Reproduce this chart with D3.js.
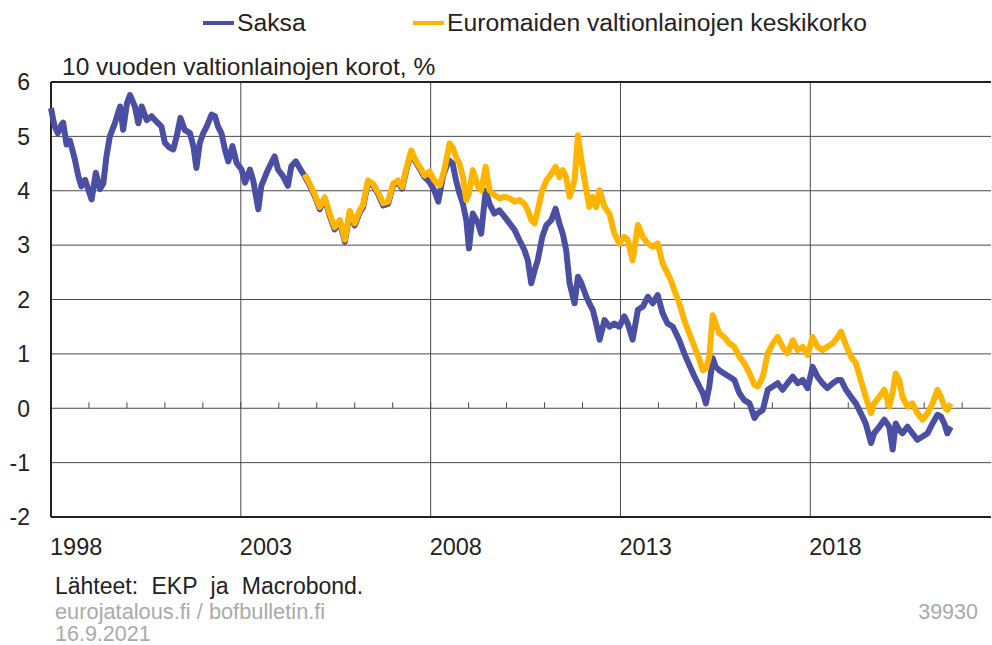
<!DOCTYPE html>
<meta charset="utf-8">
<html>
<head>
<style>
  body { margin: 0; background: #fff; }
  text { font-family: "Liberation Sans", Arial, sans-serif; }
</style>
</head>
<body>
<div id="chart"></div>
<script src="https://d3js.org/d3.v7.min.js"></script>
<script>

  // Data (decimal years, %)
  var saksaYears = [1998.00,1998.06,1998.10,1998.18,1998.28,1998.32,1998.41,1998.50,1998.63,1998.72,1998.80,1998.90,1998.98,
    1999.07,1999.18,1999.29,1999.38,1999.46,1999.55,1999.68,1999.82,1999.90,2000.00,2000.08,2000.21,2000.30,2000.39,2000.52,
    2000.65,2000.78,2000.91,2001.00,2001.13,2001.22,2001.31,2001.41,2001.52,2001.66,2001.75,2001.83,2001.92,2002.01,2002.10,
    2002.23,2002.32,2002.40,2002.49,2002.58,2002.67,2002.78,2002.89,2003.02,2003.11,2003.24,2003.33,2003.46,2003.54,2003.68,
    2003.80,2003.89,2003.98,2004.11,2004.24,2004.33,2004.45,2004.55,2004.68,2004.82,2004.95,2005.08,2005.21,2005.34,2005.47,
    2005.61,2005.74,2005.87,2006.00,2006.13,2006.22,2006.35,2006.48,2006.61,2006.75,2006.88,2007.01,2007.14,2007.25,2007.36,
    2007.49,2007.58,2007.71,2007.84,2007.97,2008.10,2008.20,2008.33,2008.48,2008.58,2008.67,2008.76,2008.85,2008.94,2009.01,
    2009.11,2009.25,2009.33,2009.45,2009.55,2009.68,2009.81,2009.95,2010.08,2010.21,2010.34,2010.47,2010.56,2010.65,2010.74,
    2010.82,2010.94,2011.05,2011.18,2011.29,2011.39,2011.48,2011.57,2011.66,2011.79,2011.88,2011.97,2012.10,2012.18,2012.27,
    2012.36,2012.45,2012.58,2012.71,2012.84,2012.97,2013.10,2013.19,2013.32,2013.46,2013.59,2013.72,2013.85,2013.98,2014.11,
    2014.24,2014.38,2014.48,2014.55,2014.68,2014.81,2014.95,2015.08,2015.17,2015.25,2015.34,2015.43,2015.51,2015.60,2015.73,
    2015.87,2016.00,2016.13,2016.26,2016.40,2016.53,2016.62,2016.75,2016.88,2017.01,2017.14,2017.27,2017.40,2017.54,2017.67,
    2017.80,2017.93,2018.06,2018.19,2018.32,2018.45,2018.59,2018.72,2018.81,2018.94,2019.07,2019.20,2019.33,2019.46,2019.60,
    2019.68,2019.82,2019.95,2020.08,2020.17,2020.25,2020.34,2020.43,2020.56,2020.69,2020.82,2020.96,2021.09,2021.22,2021.35,
    2021.44,2021.53,2021.61,2021.70];
  var saksaValues = [5.52,5.30,5.18,5.06,5.22,5.25,4.85,4.92,4.57,4.27,4.08,4.20,4.03,
    3.84,4.33,4.03,4.14,4.63,5.00,5.24,5.55,5.12,5.61,5.76,5.55,5.24,5.55,5.30,
    5.37,5.27,5.18,4.88,4.79,4.76,5.00,5.34,5.12,5.06,4.82,4.42,4.88,5.06,5.18,
    5.40,5.37,5.18,5.06,4.76,4.54,4.82,4.51,4.39,4.15,4.39,4.18,3.66,4.09,4.33,
    4.51,4.63,4.39,4.27,4.09,4.45,4.54,4.42,4.27,4.09,3.90,3.66,3.85,3.54,3.29,
    3.42,3.06,3.60,3.36,3.60,3.70,4.16,4.10,3.95,3.73,3.76,4.10,4.16,4.04,4.38,
    4.71,4.56,4.41,4.25,4.16,4.00,3.80,4.28,4.56,4.50,4.19,3.95,3.76,3.46,2.94,
    3.58,3.40,3.21,4.00,3.76,3.58,3.64,3.52,3.40,3.28,3.09,2.91,2.72,2.30,2.54,
    2.72,3.15,3.37,3.46,3.67,3.40,3.21,2.91,2.30,1.93,2.42,2.30,2.05,1.93,1.81,
    1.56,1.26,1.62,1.50,1.56,1.50,1.69,1.56,1.26,1.81,1.87,2.05,1.93,2.08,1.75,
    1.56,1.50,1.35,1.25,1.01,0.80,0.58,0.40,0.28,0.09,0.40,0.92,0.76,0.70,0.64,
    0.58,0.52,0.28,0.15,0.09,-0.18,-0.09,-0.03,0.34,0.40,0.46,0.34,0.46,0.58,0.46,
    0.52,0.37,0.76,0.58,0.46,0.37,0.46,0.52,0.52,0.34,0.21,0.09,-0.09,-0.28,-0.64,
    -0.46,-0.34,-0.21,-0.34,-0.76,-0.28,-0.40,-0.46,-0.34,-0.46,-0.58,-0.52,-0.46,-0.28,-0.12,
    -0.15,-0.28,-0.46,-0.34];

  var euroYears = [2004.68,2004.82,2004.95,2005.08,2005.21,2005.34,2005.47,2005.61,2005.74,2005.87,2006.00,2006.13,2006.22,
    2006.35,2006.48,2006.61,2006.75,2006.88,2007.01,2007.14,2007.25,2007.36,2007.49,2007.58,2007.71,2007.84,2007.97,2008.10,
    2008.24,2008.36,2008.50,2008.58,2008.67,2008.76,2008.85,2008.94,2009.01,2009.11,2009.25,2009.33,2009.45,2009.55,2009.68,
    2009.81,2009.95,2010.08,2010.21,2010.34,2010.47,2010.56,2010.65,2010.74,2010.82,2010.94,2011.05,2011.18,2011.29,2011.39,
    2011.48,2011.57,2011.66,2011.79,2011.88,2011.97,2012.10,2012.18,2012.27,2012.36,2012.45,2012.58,2012.71,2012.84,2012.97,
    2013.10,2013.19,2013.32,2013.46,2013.59,2013.72,2013.85,2013.98,2014.11,2014.24,2014.33,2014.42,2014.55,2014.68,2014.81,
    2014.95,2015.08,2015.17,2015.25,2015.34,2015.43,2015.51,2015.60,2015.73,2015.87,2016.00,2016.13,2016.26,2016.40,2016.53,
    2016.62,2016.75,2016.88,2017.01,2017.14,2017.27,2017.40,2017.54,2017.67,2017.80,2017.93,2018.06,2018.19,2018.32,2018.45,
    2018.59,2018.72,2018.81,2018.94,2019.07,2019.20,2019.33,2019.46,2019.60,2019.68,2019.82,2019.95,2020.08,2020.17,2020.25,
    2020.34,2020.43,2020.56,2020.69,2020.82,2020.96,2021.09,2021.22,2021.35,2021.44,2021.53,2021.61,2021.70];
  var euroValues = [4.30,4.12,3.93,3.70,3.88,3.58,3.33,3.46,3.10,3.63,3.40,3.64,3.74,
    4.19,4.13,3.98,3.77,3.80,4.13,4.19,4.07,4.41,4.74,4.59,4.44,4.28,4.35,4.19,
    4.10,4.38,4.87,4.80,4.62,4.50,4.25,3.83,3.95,4.38,4.07,4.01,4.44,4.01,3.92,
    3.86,3.89,3.86,3.80,3.83,3.76,3.64,3.46,3.40,3.64,4.01,4.19,4.31,4.44,4.25,
    4.38,4.25,3.89,4.19,5.02,4.56,4.01,3.70,3.89,3.70,4.01,3.70,3.58,3.21,3.03,
    3.15,3.10,2.72,3.37,3.15,3.03,2.97,3.03,2.66,2.48,2.35,2.17,1.93,1.62,1.38,
    1.13,0.89,0.70,0.73,0.95,1.71,1.56,1.38,1.31,1.19,1.13,0.95,0.83,0.64,0.43,
    0.40,0.58,1.01,1.19,1.31,1.13,1.01,1.25,1.07,1.13,0.98,1.31,1.13,1.07,1.13,
    1.19,1.31,1.41,1.16,0.95,0.83,0.52,0.21,-0.09,0.09,0.21,0.34,0.03,0.30,0.64,
    0.52,0.21,0.03,0.09,-0.09,-0.21,-0.09,0.09,0.34,0.21,0.03,-0.03,0.09];

  var seriesNames = ["Saksa", "Euromaiden valtionlainojen keskikorko"];
  var seriesColors = ["#4a4fa4", "#ffb400"];
  var yTicks = [-2, -1, 0, 1, 2, 3, 4, 5, 6];
  var yearTicks = d3.range(1999, 2023);
  var yearLabels = [1998, 2003, 2008, 2013, 2018];

  var W = 992, H = 645;
  var plotLeft = 51, plotRight = 991, plotTop = 82, plotBottom = 517;

  var svg = d3.select("#chart")
    .append("svg")
      .attr("width", W)
      .attr("height", H);

  var x = d3.scaleLinear()
    .domain([1998, 2022.76])
    .range([plotLeft, plotRight]);

  var y = d3.scaleLinear()
    .domain([-2, 6])
    .range([plotBottom, plotTop]);

  // Horizontal gridlines
  svg.append("g")
    .selectAll("line")
    .data(yTicks.filter(function(d) { return d > -2 && d < 6; }))
    .join("line")
      .attr("x1", plotLeft).attr("x2", plotRight)
      .attr("y1", function(d) { return y(d); })
      .attr("y2", function(d) { return y(d); })
      .attr("stroke", "#4a4a4a")
      .attr("stroke-width", 1);

  // Vertical gridlines
  svg.append("g")
    .selectAll("line")
    .data(yearLabels.slice(1))
    .join("line")
      .attr("x1", function(d) { return x(d); })
      .attr("x2", function(d) { return x(d); })
      .attr("y1", plotTop).attr("y2", plotBottom)
      .attr("stroke", "#4a4a4a")
      .attr("stroke-width", 1);

  // Year ticks on zero line
  svg.append("g")
    .selectAll("line")
    .data(yearTicks)
    .join("line")
      .attr("x1", function(d) { return x(d); })
      .attr("x2", function(d) { return x(d); })
      .attr("y1", y(0) - 6).attr("y2", y(0))
      .attr("stroke", "#4a4a4a")
      .attr("stroke-width", 1);

  // Frame
  svg.append("line").attr("x1", plotLeft).attr("x2", plotRight).attr("y1", plotTop).attr("y2", plotTop)
    .attr("stroke", "#222").attr("stroke-width", 2);
  svg.append("line").attr("x1", plotLeft).attr("x2", plotRight).attr("y1", plotBottom).attr("y2", plotBottom)
    .attr("stroke", "#222").attr("stroke-width", 2);
  svg.append("line").attr("x1", plotLeft).attr("x2", plotLeft).attr("y1", plotTop).attr("y2", plotBottom)
    .attr("stroke", "#222").attr("stroke-width", 2);

  // Y labels
  svg.append("g")
    .selectAll("text")
    .data(yTicks)
    .join("text")
      .attr("x", 30)
      .attr("y", function(d) { return y(d); })
      .attr("dy", "0.36em")
      .attr("text-anchor", "end")
      .style("font-size", "23px")
      .attr("fill", "#222")
      .text(function(d) { return d; });

  // X labels
  svg.append("g")
    .selectAll("text")
    .data(yearLabels)
    .join("text")
      .attr("x", function(d) { return x(d) - 1; })
      .attr("y", 555)
      .style("font-size", "23.5px")
      .attr("fill", "#222")
      .text(function(d) { return d; });

  // Lines
  var line = d3.line()
    .x(function(d) { return x(d[0]); })
    .y(function(d) { return y(d[1]); });

  var saksa = saksaYears.map(function(d, i) { return [d, saksaValues[i]]; });
  var euro = euroYears.map(function(d, i) { return [d, euroValues[i]]; });

  [saksa, euro].forEach(function(data, i) {
    svg.append("path")
      .datum(data)
      .attr("fill", "none")
      .attr("stroke", seriesColors[i])
      .attr("stroke-width", 6)
      .attr("stroke-linejoin", "round")
      .attr("d", line);
  });

  // Legend
  var legendX = [203, 413];
  seriesNames.forEach(function(name, i) {
    svg.append("line")
      .attr("x1", legendX[i]).attr("x2", legendX[i] + 31)
      .attr("y1", 23).attr("y2", 23)
      .attr("stroke", seriesColors[i])
      .attr("stroke-width", 4);
    svg.append("text")
      .attr("x", legendX[i] + 34)
      .attr("y", 31)
      .style("font-size", "24.7px")
      .attr("fill", "#222")
      .text(name);
  });

  // Title
  svg.append("text")
    .attr("x", 62).attr("y", 75)
    .style("font-size", "24.5px")
    .attr("fill", "#222")
    .text("10 vuoden valtionlainojen korot, %");

  // Footer
  svg.append("text")
    .attr("x", 55).attr("y", 594)
    .style("font-size", "23px")
    .style("word-spacing", "7px")
    .attr("fill", "#222")
    .text("Lähteet: EKP ja Macrobond.");
  svg.append("text")
    .attr("x", 55).attr("y", 619)
    .style("font-size", "21.8px")
    .attr("fill", "#aaa")
    .text("eurojatalous.fi / bofbulletin.fi");
  svg.append("text")
    .attr("x", 55).attr("y", 641)
    .style("font-size", "21.5px")
    .attr("fill", "#aaa")
    .text("16.9.2021");
  svg.append("text")
    .attr("x", 978).attr("y", 619)
    .attr("text-anchor", "end")
    .style("font-size", "21.5px")
    .attr("fill", "#aaa")
    .text("39930");

</script>
</body>
</html>
